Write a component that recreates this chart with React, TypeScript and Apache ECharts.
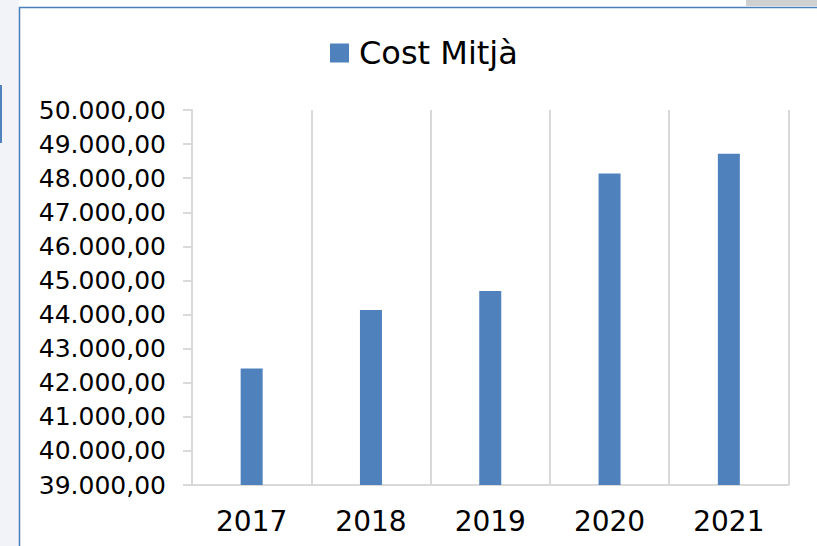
import React, { useEffect, useRef } from "react";
import * as echarts from "echarts";

const categories = ["2017", "2018", "2019", "2020", "2021"];
const costMitja = [42420, 44130, 44690, 48140, 48720];
const seriesName = "Cost Mitjà";
const yMin = 39000;
const yMax = 50000;
const yStep = 1000;

function fmt(v: number): string {
  const s = Math.round(v).toString().replace(/\B(?=(\d{3})+(?!\d))/g, ".");
  return s + ",00";
}

export default function App() {
  const ref = useRef<HTMLDivElement>(null);
  useEffect(() => {
    document.body.style.margin = "0";
    const chart = echarts.init(ref.current!, null, { renderer: "svg" });
    const font = "DejaVu Sans";
    chart.setOption({
      animation: false,
      backgroundColor: "#ffffff",
      graphic: [
        { type: "rect", z: -10, shape: { x: 0, y: 0, width: 19, height: 546 }, style: { fill: "#f1f3f8" } },
        { type: "rect", z: -10, shape: { x: 0, y: 85, width: 2, height: 58 }, style: { fill: "#4f81bd" } },
        { type: "rect", z: -10, shape: { x: 746, y: 0, width: 71, height: 6 }, style: { fill: "#d0d0d0" } },
        { type: "rect", z: -9, shape: { x: 19.5, y: 7.5, width: 820, height: 560 }, style: { fill: "#ffffff", stroke: "#4a7ebb", lineWidth: 1.5 } },
      ],
      legend: {
        data: [seriesName],
        left: 330,
        top: 37,
        padding: 0,
        icon: "rect",
        itemWidth: 19,
        itemHeight: 19,
        itemGap: 10,
        textStyle: { fontFamily: font, fontSize: 32, color: "#000", padding: [0, 0, 0, 5] },
      },
      grid: { left: 192, right: 28.5, top: 110, bottom: 61, containLabel: false },
      xAxis: {
        type: "category",
        data: categories,
        boundaryGap: true,
        axisLine: { show: true, lineStyle: { color: "#d9d9d9", width: 2 } },
        axisTick: { show: false },
        splitLine: { show: true, interval: 0, lineStyle: { color: "#d9d9d9", width: 2 } },
        axisLabel: { fontFamily: font, fontSize: 28, color: "#000", margin: 22, interval: 0 },
      },
      yAxis: {
        type: "value",
        min: yMin,
        max: yMax,
        interval: yStep,
        axisLine: { show: true, lineStyle: { color: "#d9d9d9", width: 2 } },
        axisTick: { show: true, length: 9, lineStyle: { color: "#d9d9d9", width: 2 } },
        splitLine: { show: false },
        axisLabel: { fontFamily: font, fontSize: 25, color: "#000", margin: 26, formatter: (v: number) => fmt(v) },
      },
      series: [
        {
          name: seriesName,
          type: "bar",
          data: costMitja,
          barWidth: 22,
          itemStyle: { color: "#4f81bd" },
        },
      ],
    });
    return () => chart.dispose();
  }, []);
  return <div ref={ref} style={{ width: 817, height: 546 }} />;
}
